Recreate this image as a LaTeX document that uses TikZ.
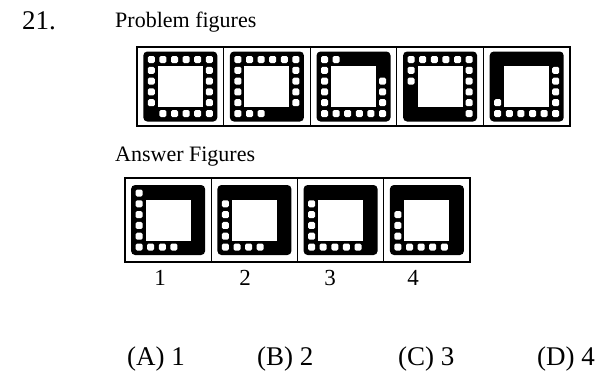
\documentclass[tikz,border=0pt]{standalone}
\usepackage{fontspec}
\setmainfont{Liberation Serif}
\usetikzlibrary{calc}

% one black tile with its hole and the white dots (#3 = col/row list)
\newcommand{\figbox}[3]{%
  \fill[blackbox] (#1,#2) rectangle ++(74,70);
  \fill[holebox] ({#1+14.5},{#2+14.5}) rectangle ++(45,41);
  \foreach \c/\r in {#3}
    \fill[dotbox] ({#1+8+11.6*(\c-1)-3.5},{#2+8+10.8*(\r-1)-3.5}) rectangle ++(7,7);
}

\begin{document}
\begin{tikzpicture}[
    x=1pt, y=-1pt,
    cell/.style={draw=black, line width=1pt, fill=white},
    strip/.style={draw=black, line width=2.2pt},
    blackbox/.style={fill=black, rounded corners=4pt},
    holebox/.style={fill=white},
    dotbox/.style={fill=white, rounded corners=1.5pt},
    qlabel/.style={font=\fontsize{27}{30}\selectfont, anchor=base west, inner sep=0pt},
    headlabel/.style={font=\fontsize{22}{25}\selectfont, anchor=base west, inner sep=0pt},
    numlabel/.style={font=\fontsize{23}{26}\selectfont, anchor=base, inner sep=0pt},
]
\useasboundingbox[fill=white] (0,0) rectangle (613,376);

% === HEADINGS ===
\node[qlabel] (qno) at (22,29) {21.};
\node[headlabel] (problem-head) at (115,27) {Problem figures};
\node[headlabel] (answer-head) at (115,161) {Answer Figures};

% === PROBLEM FIGURES ===
\foreach \i in {0,...,4}
  \draw[cell] ({137+86.6*\i},47) rectangle ++(86.6,79);
\draw[strip] (137,47) rectangle (570,126);

\figbox{143.3}{51.5}{1/1,2/1,3/1,4/1,5/1,6/1,1/2,1/3,1/4,1/5,6/2,6/3,6/4,6/5,2/6,3/6,4/6,5/6,6/6}
\figbox{229.9}{51.5}{1/1,2/1,3/1,4/1,5/1,6/1,1/2,1/3,1/4,1/5,6/2,6/3,6/4,6/5,1/6,2/6,3/6}
\figbox{316.5}{51.5}{1/1,2/1,1/2,1/3,1/4,1/5,6/3,6/4,6/5,1/6,2/6,3/6,4/6,5/6,6/6}
\figbox{403.1}{51.5}{1/1,2/1,3/1,4/1,5/1,6/1,1/2,1/3,6/2,6/3,6/4,6/5,6/6}
\figbox{489.7}{51.5}{1/5,6/2,6/3,6/4,6/5,1/6,2/6,3/6,4/6,5/6,6/6}

% === ANSWER FIGURES ===
\foreach \i in {0,...,3}
  \draw[cell] ({125+86.25*\i},178) rectangle ++(86.25,84);
\draw[strip] (125,178) rectangle (470,262);

\figbox{131.1}{185}{1/1,1/2,1/3,1/4,1/5,1/6,2/6,3/6,4/6}
\figbox{217.4}{185}{1/2,1/3,1/4,1/5,1/6,2/6,3/6,4/6}
\figbox{303.6}{185}{1/2,1/3,1/4,1/5,1/6,2/6,3/6,4/6,5/6}
\figbox{389.9}{185}{1/3,1/4,1/5,1/6,2/6,3/6,4/6,5/6}

\node[numlabel] (num-1) at (160,285) {1};
\node[numlabel] (num-2) at (245,285) {2};
\node[numlabel] (num-3) at (330,285) {3};
\node[numlabel] (num-4) at (413,285) {4};

% === OPTIONS ===
\node[qlabel] (opt-a) at (127,365) {(A) 1};
\node[qlabel] (opt-b) at (257,365) {(B) 2};
\node[qlabel] (opt-c) at (398,365) {(C) 3};
\node[qlabel] (opt-d) at (537,365) {(D) 4};

\end{tikzpicture}
\end{document}
